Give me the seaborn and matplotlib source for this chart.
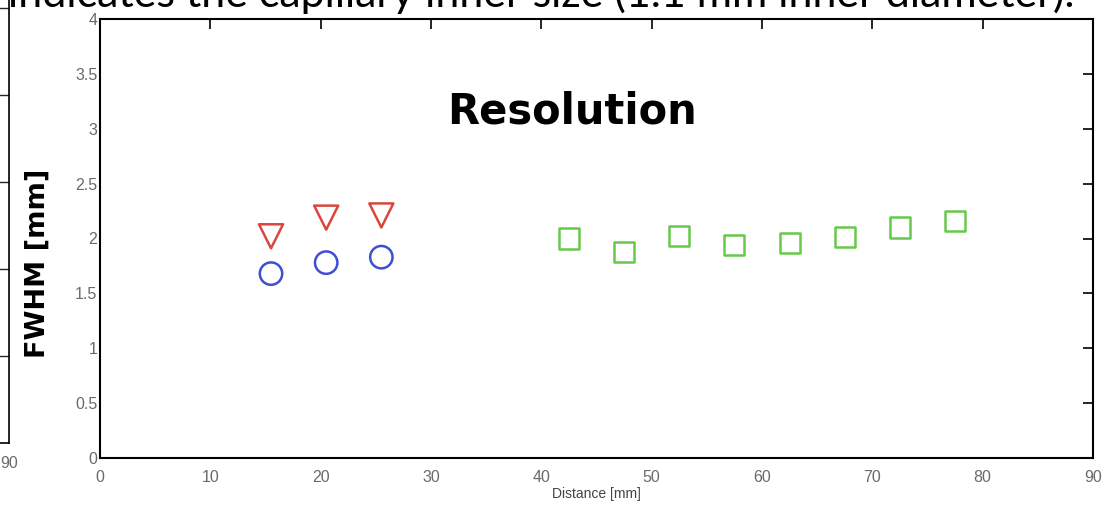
import numpy as np
import pandas as pd
import matplotlib
matplotlib.use("Agg")
import matplotlib.pyplot as plt
import seaborn as sns

# Data
tri_x = [15.5, 20.5, 25.5]
tri_y = [2.02, 2.19, 2.21]
circ_x = [15.5, 20.5, 25.5]
circ_y = [1.68, 1.78, 1.83]
sq_x = [42.5, 47.5, 52.5, 57.5, 62.5, 67.5, 72.5, 77.5]
sq_y = [2.00, 1.88, 2.02, 1.94, 1.96, 2.01, 2.10, 2.16]

x_ticks = [0, 10, 20, 30, 40, 50, 60, 70, 80, 90]
y_ticks = [0, 0.5, 1, 1.5, 2, 2.5, 3, 3.5, 4]
y_tick_labels = ["0", "0.5", "1", "1.5", "2", "2.5", "3", "3.5", "4"]

sns.set_style("white")
plt.rcParams["font.family"] = ["Liberation Sans", "DejaVu Sans"]

W, H = 1105, 509
fig = plt.figure(figsize=(W / 100, H / 100), dpi=100)

def fx(px):
    return px / W

def fy(py):
    return 1 - py / H

# Main axes
ax = fig.add_axes([fx(100), fy(458), fx(1093) - fx(100), fy(19) - fy(458)])

series = [
    (tri_x, tri_y, "v", "#d9473c", 300),
    (circ_x, circ_y, "o", "#3d4fd4", 260),
    (sq_x, sq_y, "s", "#66c94a", 210),
]
for xs, ys, mk, col, s in series:
    df = pd.DataFrame({"distance": xs, "fwhm": ys})
    sns.scatterplot(data=df, x="distance", y="fwhm", marker=mk, s=s,
                    color=col, linewidth=1.8, ax=ax, legend=False)
    coll = ax.collections[-1]
    coll.set_facecolor("none")
    coll.set_edgecolor(col)

ax.set_xlim(0, 90)
ax.set_ylim(0, 4)
ax.set_xticks(x_ticks)
ax.set_yticks(y_ticks)
ax.set_yticklabels(y_tick_labels)
ax.tick_params(direction="in", length=7, width=1.2, top=True, right=True,
               labelsize=11.5, labelcolor="#6a6a6a", color="black")
ax.tick_params(axis="x", pad=9)
ax.tick_params(axis="y", pad=2)
for sp in ax.spines.values():
    sp.set_linewidth(1.5)
    sp.set_color("black")
    sp.set_visible(True)
ax.set_xlabel("Distance [mm]", fontsize=10, color="#444444", labelpad=1)
ax.set_ylabel("")

fig.text(fx(572), fy(112), "Resolution", fontsize=30, fontweight="bold",
         family="DejaVu Sans", ha="center", va="center", color="black")
fig.text(fx(38), fy(263), "FWHM [mm]", fontsize=19.5, fontweight="bold",
         family="DejaVu Sans", rotation=90, ha="center", va="center", color="black")

# Slide text cut off at the top edge
fig.text(fx(1075), fy(7), "indicates the capillary inner size (1.1 mm inner diameter).",
         fontsize=31, family="Lato", ha="right", va="baseline", color="black")

# Right edge of a neighbouring plot, cut off at the left border
ax2 = fig.add_axes([-0.5, fy(443), 0.5 + fx(9), 1.2])
ax2.set_xlim(0, 90)
ax2.set_ylim(0, 1.2 * H / 87)
ax2.set_xticks([90])
ax2.set_yticks(np.arange(1, 8))
ax2.yaxis.tick_right()
ax2.tick_params(direction="in", length=7, width=1.0, labelsize=11.5,
                labelcolor="#6a6a6a", labelright=False)
ax2.tick_params(axis="x", pad=9)
for sp in ax2.spines.values():
    sp.set_linewidth(1.2)
    sp.set_color("black")

fig.savefig("out.png", dpi=100)
